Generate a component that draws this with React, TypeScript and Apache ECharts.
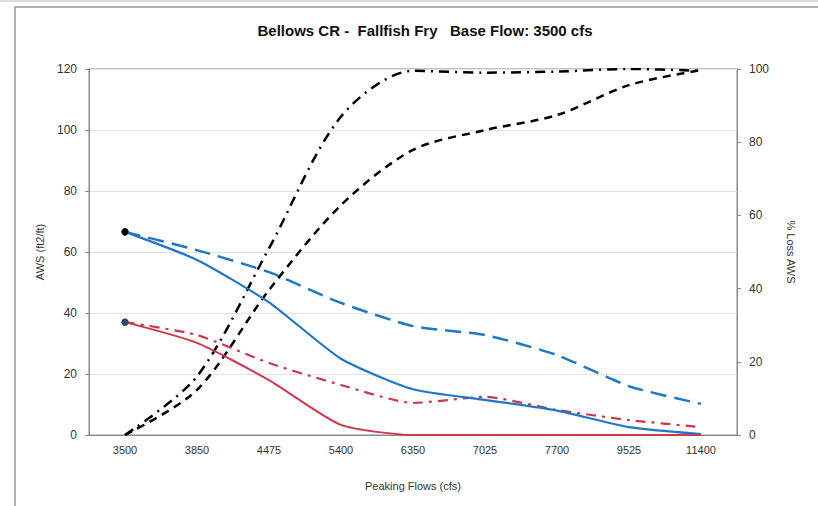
import React, { useEffect, useRef } from "react";
import * as echarts from "echarts";

const categories = ["3500", "3850", "4475", "5400", "6350", "7025", "7700", "9525", "11400"];
const awsSolidBlue = [66.6, 57.4, 43.5, 25, 15, 11.5, 8, 2.6, 0.3];
const awsDashedBlue = [66.6, 60.6, 53.4, 43.3, 35.7, 32.8, 26.2, 16, 10.2];
const awsSolidRed = [37, 30.2, 18, 3.3, 0, 0, 0, 0, 0];
const awsDashDotRed = [37, 32.8, 23.6, 16.4, 10.5, 12.5, 8.2, 4.9, 2.6];
const lossDashDot = [0, 16, 51, 87, 99.5, 99, 99.3, 100, 99.5];
const lossDashed = [0, 12.3, 39.6, 62.8, 77.9, 83.3, 87.4, 95.6, 99.7];

const TITLE = "Bellows CR -  Fallfish Fry   Base Flow: 3500 cfs";
const FONT = "Liberation Sans, Arial, sans-serif";

export default function App() {
  const ref = useRef<HTMLDivElement>(null);
  useEffect(() => {
    const chart = echarts.init(ref.current!, null, { renderer: "svg" });
    const firstMarker = (arr: number[], color: string) =>
      arr.map((v, i) =>
        i === 0
          ? { value: v, symbol: "circle", symbolSize: 7, itemStyle: { color } }
          : { value: v, symbol: "none" }
      );
    chart.setOption({
      animation: false,
      backgroundColor: "#fff",
      textStyle: { fontFamily: FONT },
      graphic: [
        { type: "line", shape: { x1: 0, y1: 1, x2: 818, y2: 1 }, style: { stroke: "#bbb", lineWidth: 1 } },
        { type: "rect", shape: { x: 15, y: 7, width: 820, height: 520 }, style: { fill: "none", stroke: "#999", lineWidth: 1.5 } },
        {
          type: "text",
          x: 425,
          y: 30,
          style: {
            text: TITLE,
            fontFamily: FONT,
            fontSize: 15,
            fontWeight: "bold",
            fill: "#111",
            align: "center",
            verticalAlign: "middle",
          },
        },
      ],
      grid: { left: 89, right: 81, top: 69, bottom: 71, show: true, borderColor: "#888", borderWidth: 1 },
      xAxis: {
        type: "category",
        data: categories,
        boundaryGap: true,
        name: "Peaking Flows (cfs)",
        nameLocation: "middle",
        nameGap: 45,
        nameTextStyle: { fontFamily: FONT, fontSize: 11, color: "#333" },
        axisLine: { lineStyle: { color: "#888" } },
        axisTick: { show: false },
        axisLabel: { fontFamily: FONT, fontSize: 11, color: "#333", margin: 9 },
      },
      yAxis: [
        {
          type: "value",
          min: 0,
          max: 120,
          interval: 20,
          name: "AWS (ft2/ft)",
          nameLocation: "middle",
          nameRotate: 90,
          nameGap: 44,
          nameTextStyle: { fontFamily: FONT, fontSize: 11, color: "#333" },
          axisLine: { show: true, lineStyle: { color: "#888" } },
          axisTick: { show: true, length: 4, lineStyle: { color: "#888" } },
          axisLabel: { fontFamily: FONT, fontSize: 12, color: "#333", margin: 12 },
          splitLine: { lineStyle: { color: "#e2e2e2" } },
        },
        {
          type: "value",
          min: 0,
          max: 100,
          interval: 20,
          name: "% Loss AWS",
          nameLocation: "middle",
          nameRotate: -90,
          nameGap: 48,
          nameTextStyle: { fontFamily: FONT, fontSize: 11, color: "#333" },
          axisLine: { show: true, lineStyle: { color: "#888" } },
          axisTick: { show: true, length: 4, lineStyle: { color: "#888" } },
          axisLabel: { fontFamily: FONT, fontSize: 12, color: "#333", margin: 12 },
          splitLine: { show: false },
        },
      ],
      series: [
        {
          type: "line",
          yAxisIndex: 1,
          data: lossDashDot,
          symbol: "none",
          smooth: 0.3,
          lineStyle: { color: "#000", width: 2.5, type: [10, 6, 2, 6] },
          z: 3,
        },
        {
          type: "line",
          yAxisIndex: 1,
          data: lossDashed,
          symbol: "none",
          smooth: 0.3,
          lineStyle: { color: "#000", width: 2.5, type: [8, 6] },
          z: 3,
        },
        {
          type: "line",
          yAxisIndex: 0,
          data: firstMarker(awsDashedBlue, "#000"),
          smooth: 0.2,
          lineStyle: { color: "#1f77c8", width: 2.5, type: [16, 8] },
          z: 4,
        },
        {
          type: "line",
          yAxisIndex: 0,
          data: firstMarker(awsSolidBlue, "#000"),
          smooth: 0.2,
          lineStyle: { color: "#1f77c8", width: 2.2 },
          z: 5,
        },
        {
          type: "line",
          yAxisIndex: 0,
          data: firstMarker(awsDashDotRed, "#2a4a7a"),
          smooth: 0.2,
          lineStyle: { color: "#c8374a", width: 2.2, type: [10, 6, 3, 6] },
          z: 4,
        },
        {
          type: "line",
          yAxisIndex: 0,
          data: firstMarker(awsSolidRed, "#2a4a7a"),
          smooth: 0.2,
          lineStyle: { color: "#d0384c", width: 2 },
          z: 5,
        },
      ],
    });
    return () => chart.dispose();
  }, []);
  return <div ref={ref} style={{ width: 818, height: 506, position: "absolute", left: 0, top: 0 }} />;
}
